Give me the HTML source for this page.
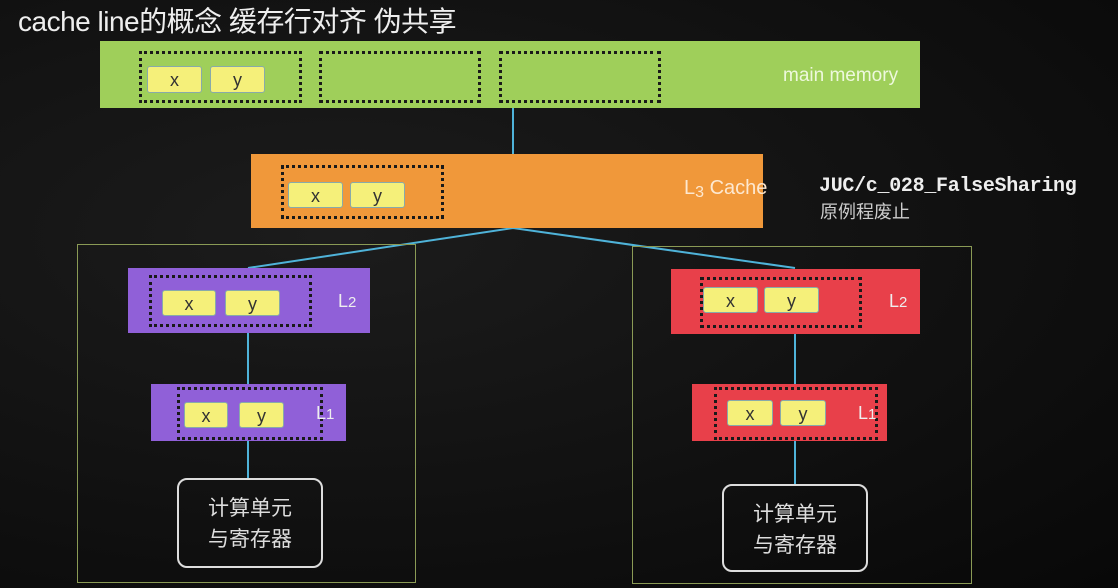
<!DOCTYPE html>
<html><head><meta charset="utf-8"><style>
html,body{margin:0;padding:0}
body{width:1118px;height:588px;background:#0e0e0e;position:relative;overflow:hidden;font-family:"Liberation Sans","Noto Sans CJK SC",sans-serif}
.a{position:absolute;box-sizing:border-box}
.dot{border:3px dotted #1a1a1a}
.chip{background:#f5f07a;border:1px solid #8aa;border-radius:3px;color:#333;font-size:18px;text-align:center}
.lbl{color:#eee;font-size:18px}
.cpu{border:2px solid #ddd;border-radius:10px;color:#ddd;font-size:21px;text-align:center;line-height:31px;padding-top:13px}
</style></head><body>
<div class="a" style="left:0;top:0;width:1118px;height:588px;background:radial-gradient(ellipse at 30% 40%,#1c1c1c 0%,#121212 50%,#080808 100%)"></div>
<div class="a" style="left:18px;top:0px;color:#eee;font-size:28px;white-space:nowrap;letter-spacing:-0.5px">cache line的概念 缓存行对齐 伪共享</div>

<svg class="a" style="left:0;top:0" width="1118" height="588">
<g stroke="#4fb3d9" stroke-width="2" fill="none">
<line x1="513" y1="106" x2="513" y2="154"/>
<polyline points="248,268 513,228 795,268"/>
<line x1="248" y1="333" x2="248" y2="384"/>
<line x1="248" y1="441" x2="248" y2="478"/>
<line x1="795" y1="334" x2="795" y2="384"/>
<line x1="795" y1="441" x2="795" y2="484"/>
</g>
<rect x="77.5" y="244.5" width="338" height="338" fill="none" stroke="#8a9a55" stroke-width="1"/>
<rect x="632.5" y="246.5" width="339" height="337" fill="none" stroke="#8a9a55" stroke-width="1"/>
</svg>

<!-- main memory -->
<div class="a" style="left:100px;top:41px;width:820px;height:67px;background:#9fcf5a"></div>
<div class="a dot" style="left:139px;top:51px;width:163px;height:52px"></div>
<div class="a dot" style="left:319px;top:51px;width:162px;height:52px"></div>
<div class="a dot" style="left:499px;top:51px;width:162px;height:52px"></div>
<div class="a chip" style="left:147px;top:66px;width:55px;height:27px;line-height:27px">x</div>
<div class="a chip" style="left:210px;top:66px;width:55px;height:27px;line-height:27px">y</div>
<div class="a" style="left:783px;top:65px;color:#eef8dd;font-size:19px">main memory</div>

<!-- L3 -->
<div class="a" style="left:251px;top:154px;width:512px;height:74px;background:#f0983a"></div>
<div class="a dot" style="left:281px;top:165px;width:163px;height:54px"></div>
<div class="a chip" style="left:288px;top:182px;width:55px;height:26px;line-height:26px">x</div>
<div class="a chip" style="left:350px;top:182px;width:55px;height:26px;line-height:26px">y</div>
<div class="a" style="left:684px;top:177px;color:#fde8d0;font-size:20px">L<span style="font-size:16px;position:relative;top:3px">3</span> Cache</div>

<div class="a" style="left:819px;top:175px;color:#eee;font-size:20px;font-weight:bold;font-family:'Liberation Mono','Noto Sans CJK SC',monospace;letter-spacing:-0.3px">JUC/c_028_FalseSharing</div>
<div class="a" style="left:820px;top:198px;color:#ccc;font-size:18px">原例程废止</div>

<!-- left -->
<div class="a" style="left:128px;top:268px;width:242px;height:65px;background:#9060d8"></div>
<div class="a dot" style="left:149px;top:275px;width:163px;height:52px"></div>
<div class="a chip" style="left:162px;top:290px;width:54px;height:26px;line-height:26px">x</div>
<div class="a chip" style="left:225px;top:290px;width:55px;height:26px;line-height:26px">y</div>
<div class="a lbl" style="left:338px;top:291px">L<span style="font-size:15px">2</span></div>

<div class="a" style="left:151px;top:384px;width:195px;height:57px;background:#9060d8"></div>
<div class="a dot" style="left:177px;top:387px;width:146px;height:53px"></div>
<div class="a chip" style="left:184px;top:402px;width:44px;height:26px;line-height:26px">x</div>
<div class="a chip" style="left:239px;top:402px;width:45px;height:26px;line-height:26px">y</div>
<div class="a lbl" style="left:316px;top:403px">L<span style="font-size:15px">1</span></div>
<div class="a cpu" style="left:177px;top:478px;width:146px;height:90px">计算单元<br>与寄存器</div>

<!-- right -->
<div class="a" style="left:671px;top:269px;width:249px;height:65px;background:#e8404a"></div>
<div class="a dot" style="left:700px;top:277px;width:162px;height:51px"></div>
<div class="a chip" style="left:703px;top:287px;width:55px;height:26px;line-height:26px">x</div>
<div class="a chip" style="left:764px;top:287px;width:55px;height:26px;line-height:26px">y</div>
<div class="a lbl" style="left:889px;top:291px">L<span style="font-size:15px">2</span></div>

<div class="a" style="left:692px;top:384px;width:195px;height:57px;background:#e8404a"></div>
<div class="a dot" style="left:714px;top:387px;width:164px;height:53px"></div>
<div class="a chip" style="left:727px;top:400px;width:46px;height:26px;line-height:26px">x</div>
<div class="a chip" style="left:780px;top:400px;width:46px;height:26px;line-height:26px">y</div>
<div class="a lbl" style="left:858px;top:403px">L<span style="font-size:15px">1</span></div>
<div class="a cpu" style="left:722px;top:484px;width:146px;height:88px">计算单元<br>与寄存器</div>
</body></html>
